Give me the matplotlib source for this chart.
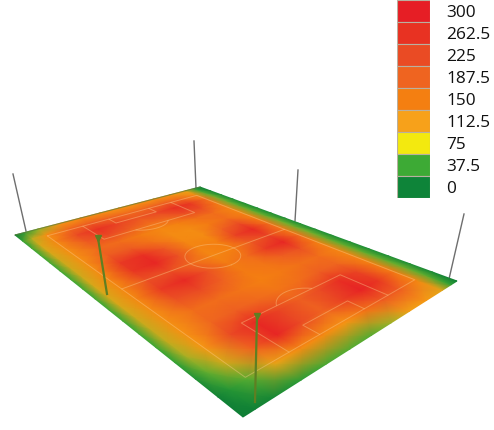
# plot.py — floodlight illuminance over a pitch, drawn in perspective
import numpy as np
import matplotlib
matplotlib.use("Agg")
import matplotlib.pyplot as plt
from matplotlib.colors import LinearSegmentedColormap, Normalize

W, H = 494, 430

# ─── data ────────────────────────────────────────────────────────────────────

LEVELS = [300, 262.5, 225, 187.5, 150, 112.5, 75, 37.5, 0]
LEVEL_LABELS = ["300", "262.5", "225", "187.5", "150", "112.5", "75", "37.5", "0"]
LEVEL_COLORS = ["#E61E25", "#E83222", "#EA4B24", "#EF6420", "#F47F11",
                "#F7A11A", "#F3E90F", "#3DAA35", "#0E8439"]

# where the rows of LUX sit across the pitch (0..1); columns are evenly spaced along it
ROW_POS = [0, 0.04, 0.1, 0.2, 0.3, 0.4, 0.5, 0.6, 0.7, 0.8, 0.9, 0.96, 1]
LUX = [
    [5, 35, 40, 42, 42, 42, 42, 42, 42, 42, 42, 42, 40, 35, 22, 8, 3],
    [30, 85, 95, 95, 92, 92, 92, 95, 95, 95, 92, 90, 88, 80, 55, 25, 6],
    [70, 130, 140, 135, 132, 132, 135, 140, 140, 140, 135, 132, 130, 122, 92, 50, 12],
    [125, 180, 225, 205, 180, 200, 250, 255, 215, 250, 215, 175, 185, 225, 190, 105, 30],
    [135, 200, 265, 225, 175, 200, 270, 285, 220, 280, 225, 175, 195, 280, 285, 135, 45],
    [130, 190, 235, 200, 155, 165, 205, 215, 180, 215, 190, 165, 180, 235, 225, 135, 50],
    [125, 180, 210, 175, 140, 135, 140, 145, 140, 155, 155, 150, 165, 195, 190, 125, 50],
    [128, 185, 225, 185, 148, 135, 135, 150, 150, 175, 165, 158, 175, 225, 240, 165, 75],
    [130, 195, 265, 225, 170, 155, 190, 240, 200, 250, 195, 170, 195, 270, 290, 195, 110],
    [125, 180, 255, 220, 175, 175, 225, 280, 235, 285, 215, 175, 185, 235, 255, 190, 120],
    [105, 135, 170, 155, 145, 145, 150, 170, 160, 170, 150, 145, 145, 150, 155, 140, 100],
    [30, 50, 60, 58, 55, 55, 55, 60, 58, 60, 55, 55, 55, 55, 58, 52, 35],
    [5, 12, 18, 18, 18, 18, 18, 18, 18, 18, 18, 18, 18, 18, 18, 12, 5],
]

# colours the heat map runs through; it barely touches the legend's yellow
FIELD_STOPS = [(0, "#0A7A35"), (37.5, "#35A535"), (70, "#8DB52A"), (95, "#D9A71A"),
               (112.5, "#F5A015"), (150, "#F47F11"), (187.5, "#EF6420"),
               (225, "#EA4B24"), (262.5, "#E83222"), (300, "#E61E25")]

# ─── geometry ────────────────────────────────────────────────────────────────

# image corners of the lit area: (s,t) = (0,0), (0,1), (1,1), (1,0)
P00, P01, P11, P10 = (15, 235), (200, 187), (457, 281), (243, 417)

POLES_FAR = [((13, 174), (26, 231)), ((194, 141), (196, 188)),
             ((298, 170), (295, 221)), ((464, 214), (449, 279))]
POLES_NEAR = [((98, 238), (107, 294)), ((257, 316), (255, 402))]


def homography():
    a = np.array([[0, 0, 1, 0, 0, 0, 0, 0], [0, 0, 0, 0, 0, 1, 0, 0],
                  [0, 1, 1, 0, 0, 0, 0, -P01[0]], [0, 0, 0, 0, 1, 1, 0, -P01[1]],
                  [1, 1, 1, 0, 0, 0, -P11[0], -P11[0]], [0, 0, 0, 1, 1, 1, -P11[1], -P11[1]],
                  [1, 0, 1, 0, 0, 0, -P10[0], 0], [0, 0, 0, 1, 0, 1, -P10[1], 0]], float)
    b = np.array([P00[0], P00[1], P01[0], P01[1], P11[0], P11[1], P10[0], P10[1]], float)
    return np.linalg.solve(a, b)


HOM = homography()


def project(s, t):
    s, t = np.asarray(s, float), np.asarray(t, float)
    a, b, c, d, e, f, g, h = HOM
    w = g * s + h * t + 1
    return (a * s + b * t + c) / w, (d * s + e * t + f) / w


def pitch(ax, x, y, closed=False):
    """x, y in metres on a 105 x 68 pitch."""
    x, y = np.asarray(x, float), np.asarray(y, float)
    if closed:
        x, y = np.append(x, x[0]), np.append(y, y[0])
    px, py = project(0.07 + x / 105 * 0.86, 0.10 + y / 68 * 0.80)
    ax.plot(px, py, color="#FBCB8C", lw=0.7, alpha=0.42, solid_capstyle="round", zorder=3)


def draw_markings(ax):
    pitch(ax, [0, 105, 105, 0], [0, 0, 68, 68], closed=True)
    pitch(ax, [52.5, 52.5], [0, 68])
    a = np.radians(np.arange(0, 361, 10))
    pitch(ax, 52.5 + 9.15 * np.cos(a), 34 + 9.15 * np.sin(a))
    for x0, d in [(0, 1), (105, -1)]:
        pitch(ax, [x0, x0 + d * 16.5, x0 + d * 16.5, x0], [13.85, 13.85, 54.15, 54.15])
        pitch(ax, [x0, x0 + d * 5.5, x0 + d * 5.5, x0], [24.85, 24.85, 43.15, 43.15])
        b = np.radians(np.arange(-52, 53, 8))
        pitch(ax, x0 + d * (11 + 9.15 * np.cos(b)), 34 + 9.15 * np.sin(b))


# ─── figure ──────────────────────────────────────────────────────────────────

plt.rcParams["font.family"] = ["Open Sans", "DejaVu Sans"]

fig = plt.figure(figsize=(W / 100, H / 100), dpi=100)
ax = fig.add_axes([0, 0, 1, 1])
ax.set_xlim(0, W)
ax.set_ylim(H, 0)
ax.axis("off")

lux = np.array(LUX, float)
s, t = np.meshgrid(np.linspace(0, 1, lux.shape[1]), ROW_POS)
X, Y = project(s, t)

cmap = LinearSegmentedColormap.from_list("lux", [(v / 300, c) for v, c in FIELD_STOPS])
ax.pcolormesh(X, Y, lux, shading="gouraud", cmap=cmap, norm=Normalize(0, 300), zorder=2)

draw_markings(ax)

# far edge of the lit area
ax.plot(*zip(P00, P01), color="#5E7A3A", lw=0.8, alpha=0.7, zorder=3)

for top, base in POLES_FAR:
    ax.plot(*zip(top, base), color="#6E6E6E", lw=1.0, zorder=1)
for top, base in POLES_NEAR:
    ax.plot(*zip(top, base), color="#5F7F22", lw=1.6, zorder=4)
    ax.plot(top[0], top[1], marker="v", ms=4, color="#5F7F22", zorder=4)

# legend: nine swatches with labels to the right
lg = fig.add_axes([396.5 / W, 1 - 198 / H, 33.5 / W, 198 / H])
pos = np.arange(len(LEVELS))
lg.barh(pos, 1, height=1, left=0, color=LEVEL_COLORS, edgecolor="#B9B0A0", linewidth=0.8)
lg.set_xlim(0, 1)
lg.set_ylim(len(LEVELS) - 0.5, -0.5)
lg.set_xticks([])
lg.yaxis.tick_right()
lg.set_yticks(pos, LEVEL_LABELS, fontsize=12.4, color="#111111")
lg.tick_params(axis="y", length=0, pad=11.5)
for sp in lg.spines.values():
    sp.set_visible(False)

fig.savefig("out.png", dpi=100)
